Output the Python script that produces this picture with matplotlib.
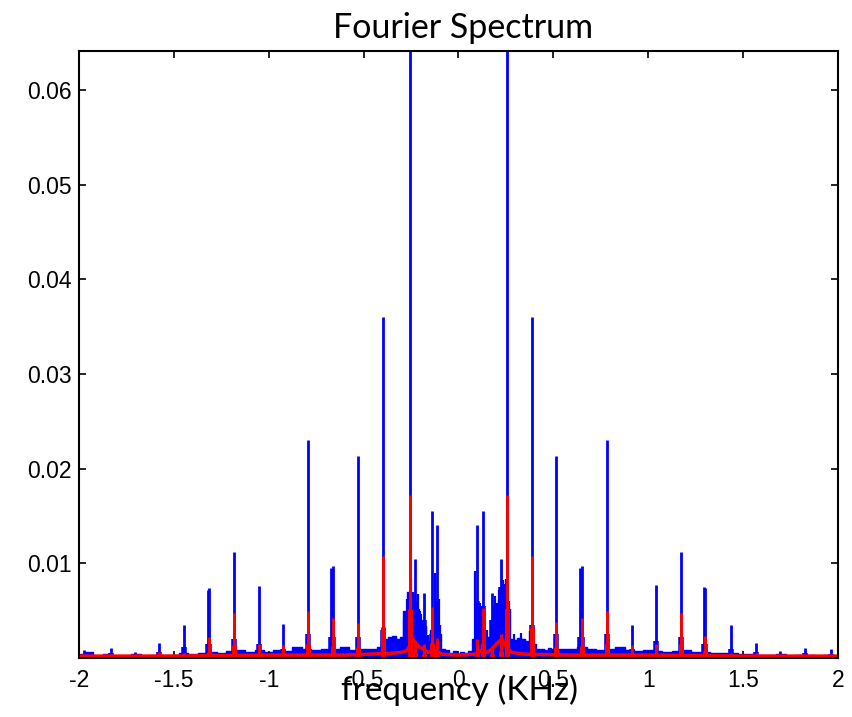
#Fourier spectrum: blue = raw signal, red = filtered signal
import numpy as np
import matplotlib.pyplot as plt

#blue spikes (kHz) and their heights, plus the height of the wider foot of each spike
blue_freq = [-1.972, -1.833, -1.705, -1.577, -1.447, -1.322, -1.315, -1.183, -1.051, -0.923,
             -0.792, -0.670, -0.663, -0.528, -0.399, -0.256, -0.229, -0.183, -0.138, -0.112,
             0.099, 0.128, 0.175, 0.222, 0.257, 0.386, 0.515, 0.643, 0.651, 0.781,
             0.913, 1.041, 1.171, 1.292, 1.299, 1.438, 1.566, 1.696, 1.826, 1.962]
blue_amp = [0.0008, 0.0011, 0.0006, 0.0016, 0.0035, 0.0072, 0.0074, 0.0112, 0.0076, 0.0036,
            0.0230, 0.0095, 0.0097, 0.0213, 0.0360, 0.0700, 0.0105, 0.0069, 0.0155, 0.0140,
            0.0140, 0.0155, 0.0069, 0.0105, 0.0700, 0.0360, 0.0213, 0.0095, 0.0097, 0.0230,
            0.0035, 0.0077, 0.0112, 0.0075, 0.0074, 0.0035, 0.0016, 0.0007, 0.0011, 0.0009]
blue_foot = [0.0004, 0.0005, 0.0003, 0.0006, 0.0012, 0.0015, 0.0015, 0.0020, 0.0015, 0.0010,
             0.0025, 0.0022, 0.0022, 0.0022, 0.0030, 0.0060, 0.0060, 0.0040, 0.0025, 0.0060,
             0.0060, 0.0055, 0.0040, 0.0075, 0.0060, 0.0035, 0.0025, 0.0022, 0.0022, 0.0025,
             0.0010, 0.0018, 0.0022, 0.0015, 0.0015, 0.0010, 0.0006, 0.0004, 0.0005, 0.0004]

#smaller blue spikes inside the two central clusters
grass_freq = [-0.285, -0.272, -0.248, -0.240, -0.214, -0.205, -0.196, -0.170, -0.160, -0.122,
              -0.104, -0.095, 0.088, 0.093, 0.112, 0.150, 0.186, 0.195, 0.203, 0.212,
              0.232, 0.240, 0.248, 0.268, 0.295, 0.330]
grass_amp = [0.0040, 0.0062, 0.0083, 0.0070, 0.0068, 0.0050, 0.0046, 0.0030, 0.0024, 0.0090,
             0.0062, 0.0035, 0.0092, 0.0060, 0.0058, 0.0030, 0.0055, 0.0065, 0.0058, 0.0072,
             0.0082, 0.0078, 0.0083, 0.0060, 0.0025, 0.0026]

#red spikes
red_freq = [-1.972, -1.833, -1.705, -1.577, -1.447, -1.315, -1.183, -1.051, -0.923, -0.792,
            -0.663, -0.528, -0.399, -0.256, -0.229, -0.183, -0.138, -0.112,
            0.099, 0.128, 0.175, 0.222, 0.257, 0.386, 0.515, 0.651, 0.781, 0.913,
            1.041, 1.171, 1.299, 1.438, 1.566, 1.696, 1.826, 1.962]
red_amp = [0.0002, 0.0003, 0.0002, 0.0006, 0.0005, 0.0022, 0.0047, 0.0015, 0.0014, 0.0050,
           0.0042, 0.0037, 0.0108, 0.0172, 0.0017, 0.0015, 0.0054, 0.0021,
           0.0020, 0.0053, 0.0013, 0.0025, 0.0172, 0.0108, 0.0038, 0.0042, 0.0050, 0.0014,
           0.0015, 0.0048, 0.0023, 0.0005, 0.0005, 0.0002, 0.0003, 0.0002]

#blue noise floor
floor_freq = np.round(np.concatenate([np.arange(-2.0, -0.49, 0.05),
                                      np.arange(-0.48, 0.49, 0.02),
                                      np.arange(0.50, 2.01, 0.05)]), 3)
floor_blue = [0.0004, 0.0006, 0.0002, 0.0004, 0.0002, 0.0002, 0.0004, 0.0002, 0.0003, 0.0003,
              0.0003, 0.0005, 0.0004, 0.0005, 0.0006, 0.0005, 0.0007, 0.0008, 0.0006, 0.0008,
              0.0006, 0.0008, 0.0007, 0.0012, 0.0010, 0.0008, 0.0009, 0.0010, 0.0012, 0.0008,
              0.0010,
              0.0010, 0.0009, 0.0010, 0.0012, 0.0018, 0.0020, 0.0022, 0.0023, 0.0020, 0.0022,
              0.0050, 0.0070, 0.0066, 0.0052, 0.0040, 0.0034, 0.0018, 0.0030, 0.0050, 0.0025,
              0.0010, 0.0008, 0.0005, 0.0007, 0.0004, 0.0006, 0.0005, 0.0007, 0.0020, 0.0050,
              0.0048, 0.0016, 0.0022, 0.0040, 0.0050, 0.0062, 0.0068, 0.0052, 0.0020, 0.0019,
              0.0021, 0.0020, 0.0018, 0.0028, 0.0015, 0.0009, 0.0010, 0.0008, 0.0011,
              0.0010, 0.0009, 0.0010, 0.0012, 0.0009, 0.0008, 0.0010, 0.0012, 0.0008, 0.0007,
              0.0008, 0.0007, 0.0006, 0.0007, 0.0008, 0.0006, 0.0006, 0.0005, 0.0005, 0.0005,
              0.0004, 0.0004, 0.0003, 0.0003, 0.0004, 0.0002, 0.0003, 0.0003, 0.0002, 0.0003,
              0.0002]

#red floor
red_floor_freq = [-2.0, -1.5, -1.0, -0.6, -0.35, -0.30, -0.27, -0.24, -0.21, -0.19, -0.16, -0.12,
                  -0.09, 0.0, 0.09, 0.12, 0.15, 0.18, 0.20, 0.23, 0.25, 0.28, 0.35, 0.6, 1.0, 1.5, 2.0]
red_floor = [0.0002, 0.0002, 0.0003, 0.0003, 0.0005, 0.0006, 0.0008, 0.0020, 0.0012, 0.0010, 0.0006,
             0.0008, 0.0004, 0.0003, 0.0004, 0.0008, 0.0006, 0.0010, 0.0015, 0.0020, 0.0012, 0.0006,
             0.0004, 0.0003, 0.0003, 0.0002, 0.0002]

yticks = [0.01, 0.02, 0.03, 0.04, 0.05, 0.06]
xticks = [-2, -1.5, -1, -0.5, 0, 0.5, 1, 1.5, 2]
xlabels = ['-2', '-1.5', '-1', '-0.5', '0', '0.5', '1', '1.5', '2']

fig = plt.figure(figsize=(8.53, 7.17), dpi=100)
ax = fig.add_axes([0.0926, 0.0823, 0.8898, 0.8466])

#blue spectrum
ax.fill_between(floor_freq, 0, floor_blue, step='mid', color='blue', lw=1.0)
ax.vlines(grass_freq, 0, grass_amp, color='blue', lw=1.6)
ax.vlines(blue_freq, 0, blue_foot, color='blue', lw=4.0)
ax.vlines(blue_freq, 0, blue_amp, color='blue', lw=2.0)

#red spectrum
ax.plot(red_floor_freq, red_floor, color='red', lw=2.5)
ax.vlines(red_freq, 0, np.array(red_amp) * 0.3, color='red', lw=3.6)
ax.vlines(red_freq, 0, red_amp, color='red', lw=2.1)

ax.set_xlim(-2, 2)
ax.set_ylim(0, 0.0641)
ax.set_xticks(xticks)
ax.set_xticklabels(xlabels)
ax.set_yticks(yticks)
ax.set_yticklabels(['0.01', '0.02', '0.03', '0.04', '0.05', '0.06'])
ax.tick_params(direction='in', top=True, right=True, length=5, width=1.2,
               labelsize=16.5, colors='black')
ax.tick_params(axis='x', pad=8)
ax.tick_params(axis='y', pad=5)
for lab in ax.get_xticklabels() + ax.get_yticklabels():
    lab.set_family('Liberation Sans')
for sp in ax.spines.values():
    sp.set_linewidth(1.5)

fig.text(0.5434, 0.947, 'Fourier Spectrum', family='Lato', fontsize=24.5,
         ha='center', va='baseline')
fig.text(0.539, 0.0237, 'frequency (KHz)', family='Lato', fontsize=24,
         ha='center', va='baseline')

fig.savefig('out.png', dpi=100)
